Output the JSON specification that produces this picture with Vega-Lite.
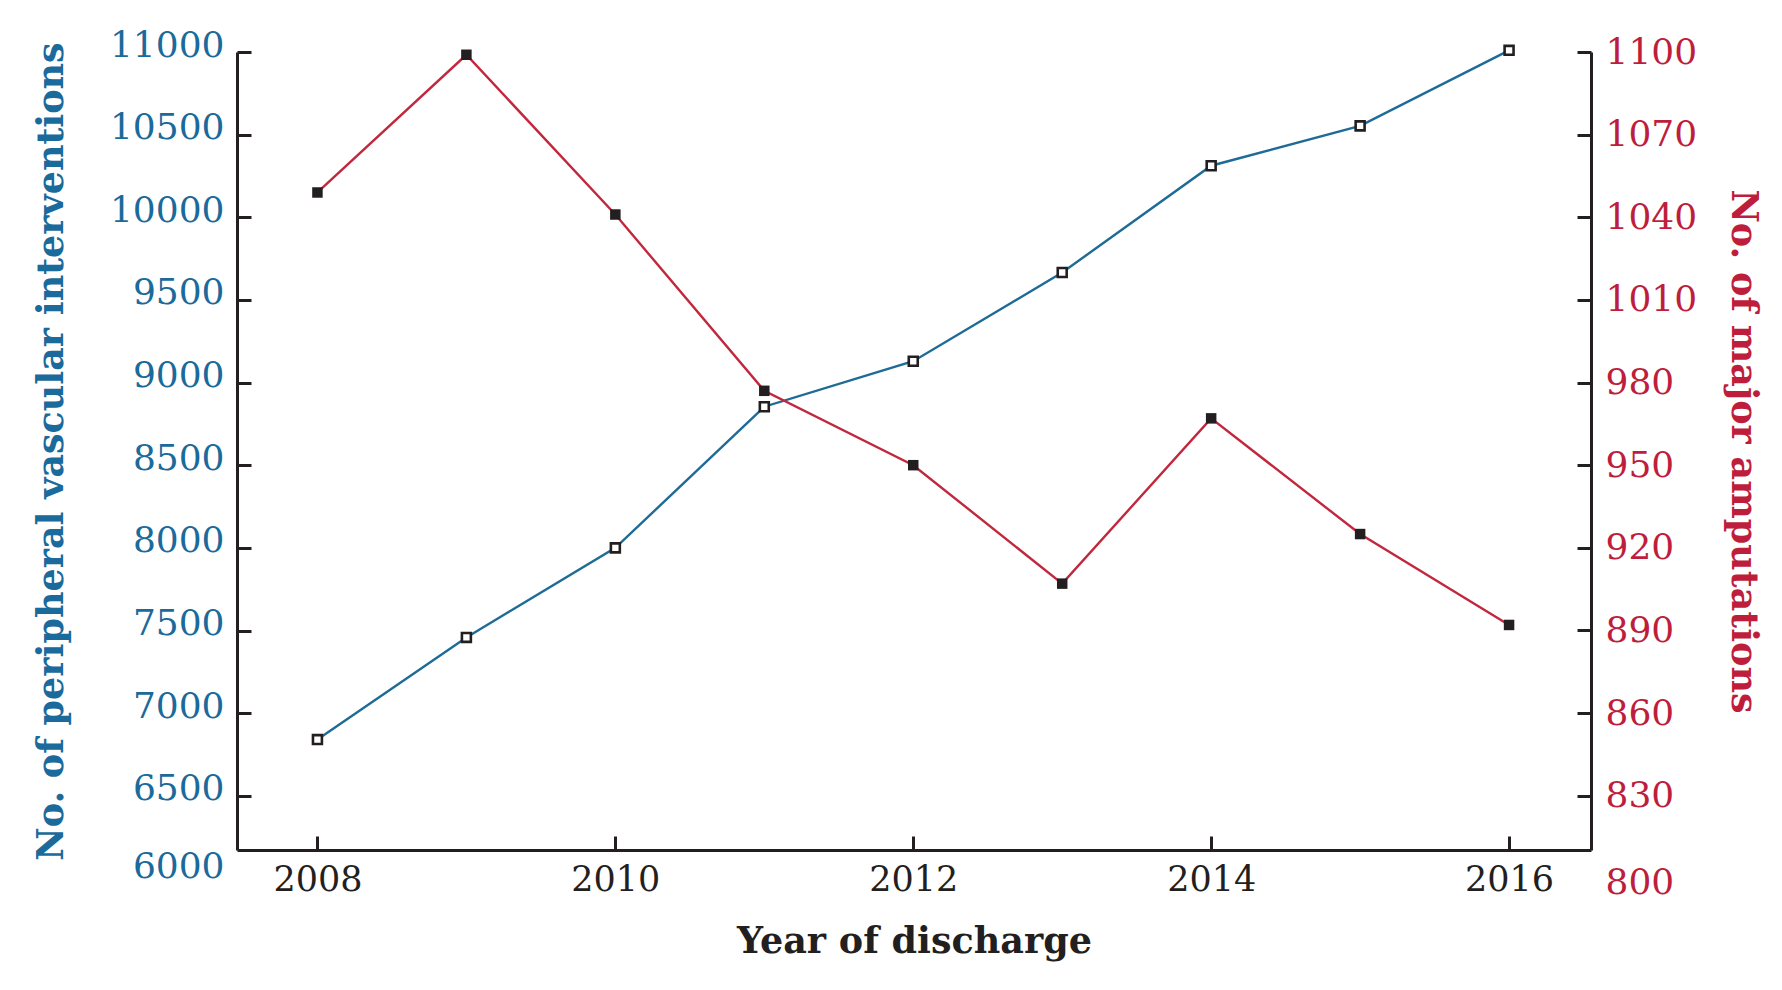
{
  "$schema": "https://vega.github.io/schema/vega-lite/v6.json",
  "width": 1354,
  "height": 798,
  "autosize": "none",
  "padding": {"left": 237, "top": 52, "right": 191, "bottom": 140},
  "background": "white",
  "config": {"view": {"stroke": null}, "font": "DejaVu Serif"},
  "data": {
    "values": [
      {"year": 2008, "pvi": 6840, "amp": 1049},
      {"year": 2009, "pvi": 7458, "amp": 1099},
      {"year": 2010, "pvi": 8000, "amp": 1041},
      {"year": 2011, "pvi": 8854, "amp": 977},
      {"year": 2012, "pvi": 9129, "amp": 950},
      {"year": 2013, "pvi": 9666, "amp": 907},
      {"year": 2014, "pvi": 10312, "amp": 967},
      {"year": 2015, "pvi": 10553, "amp": 925},
      {"year": 2016, "pvi": 11010, "amp": 892}
    ]
  },
  "encoding": {
    "x": {
      "field": "year",
      "type": "quantitative",
      "scale": {"domain": [2007.46, 2016.55], "nice": false, "zero": false},
      "axis": {
        "title": "Year of discharge",
        "values": [2008, 2010, 2012, 2014, 2016],
        "format": "d",
        "grid": false,
        "domainColor": "#231f20",
        "domainWidth": 3,
        "tickColor": "#231f20",
        "tickWidth": 3,
        "tickSize": -14,
        "labelPadding": 43,
        "labelFont": "DejaVu Serif",
        "labelFontSize": 35,
        "labelColor": "#231f20",
        "labelBaseline": "middle",
        "titleFont": "DejaVu Serif",
        "titleFontSize": 36.5,
        "titleFontWeight": "bold",
        "titleColor": "#231f20",
        "titleX": 677,
        "titleY": 91,
        "titleBaseline": "middle",
        "titleAlign": "center"
      }
    }
  },
  "layer": [
    {
      "encoding": {
        "y": {
          "field": "pvi",
          "type": "quantitative",
          "scale": {"domain": [6172, 11000], "nice": false, "zero": false},
          "axis": {
            "orient": "left",
            "title": "No. of peripheral vascular interventions",
            "values": [6172, 6500, 7000, 7500, 8000, 8500, 9000, 9500, 10000, 10500, 11000],
            "format": "d",
            "labelExpr": "datum.value < 6200 ? '6000' : datum.label",
            "grid": false,
            "domainColor": "#231f20",
            "domainWidth": 3,
            "tickColor": "#231f20",
            "tickWidth": 3,
            "tickSize": -14,
            "tickOpacity": {"condition": {"test": "datum.value < 6200", "value": 0}, "value": 1},
            "labelPadding": 27,
            "labelOffset": {"condition": {"test": "datum.value < 6200", "value": 16}, "value": -7},
            "labelFont": "DejaVu Serif",
            "labelFontSize": 36,
            "labelColor": "#1a6a9b",
            "titleFont": "DejaVu Serif",
            "titleFontSize": 36.5,
            "titleFontWeight": "bold",
            "titleColor": "#1a6a9b",
            "titleAngle": -90,
            "titleX": -186,
            "titleY": 399,
            "titleBaseline": "middle",
            "titleAlign": "center"
          }
        }
      },
      "layer": [
        {"mark": {"type": "line", "color": "#1d6b96", "strokeWidth": 2.4}},
        {"mark": {"type": "point", "shape": "square", "filled": true, "fill": "white", "stroke": "#231f20", "strokeWidth": 2.6, "size": 80, "opacity": 1}}
      ]
    },
    {
      "encoding": {
        "y": {
          "field": "amp",
          "type": "quantitative",
          "scale": {"domain": [810.3, 1100], "nice": false, "zero": false},
          "axis": {
            "orient": "right",
            "title": "No. of major amputations",
            "values": [810.3, 830, 860, 890, 920, 950, 980, 1010, 1040, 1070, 1100],
            "format": "d",
            "labelExpr": "datum.value < 815 ? '800' : datum.label",
            "grid": false,
            "domainColor": "#231f20",
            "domainWidth": 3,
            "tickColor": "#231f20",
            "tickWidth": 3,
            "tickSize": -14,
            "tickOpacity": {"condition": {"test": "datum.value < 815", "value": 0}, "value": 1},
            "labelPadding": 28,
            "labelOffset": {"condition": {"test": "datum.value < 815", "value": 32}, "value": 0},
            "labelFont": "DejaVu Serif",
            "labelFontSize": 36,
            "labelColor": "#be1e3c",
            "titleFont": "DejaVu Serif",
            "titleFontSize": 36.5,
            "titleFontWeight": "bold",
            "titleColor": "#be1e3c",
            "titleAngle": 90,
            "titleX": 151,
            "titleY": 399,
            "titleBaseline": "middle",
            "titleAlign": "center"
          }
        }
      },
      "layer": [
        {"mark": {"type": "line", "color": "#c1283e", "strokeWidth": 2.4}},
        {"mark": {"type": "point", "shape": "square", "filled": true, "color": "#231f20", "size": 110, "opacity": 1}}
      ]
    }
  ],
  "resolve": {"scale": {"y": "independent"}}
}
